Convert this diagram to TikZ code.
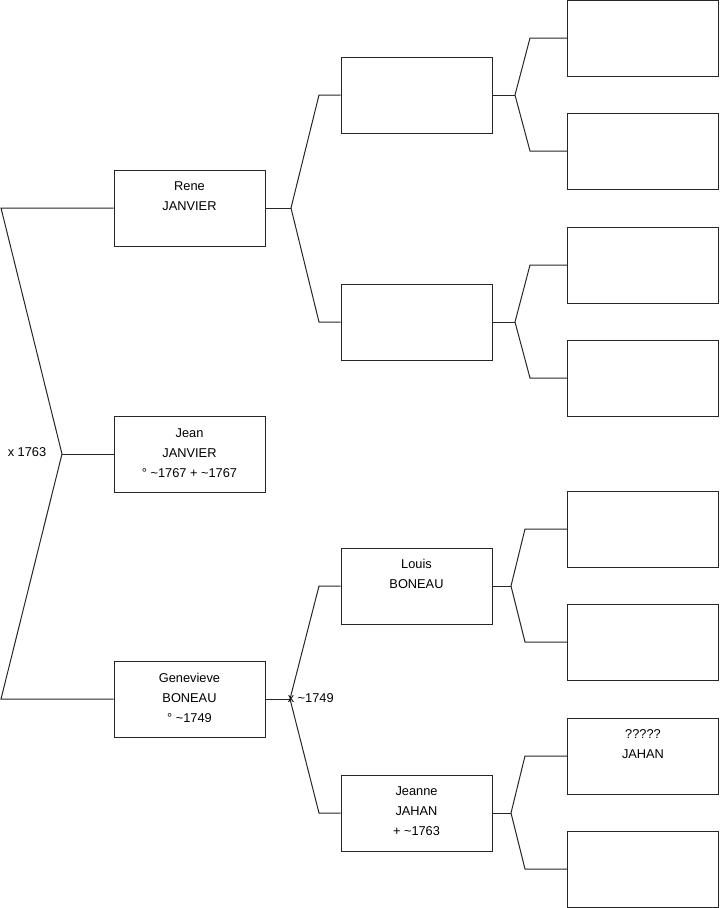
\documentclass[tikz,border=0pt]{standalone}
\usepackage{fontspec}
\setmainfont{Liberation Sans}
\begin{document}
\begin{tikzpicture}[x=0.75pt,y=-0.75pt,
  box/.style={draw=black!85, line width=0.75pt, minimum width=113.25pt, minimum height=57pt, inner sep=0pt},
  txt/.style={anchor=base, align=center, inner sep=0pt, font=\fontsize{9.6pt}{15pt}\selectfont},
  lbl/.style={inner sep=0pt, font=\fontsize{9.6pt}{11pt}\selectfont},
  conn/.style={draw=black!85, line width=0.75pt}]
\useasboundingbox (0,0) rectangle (719,908);
% level 1
\node[box] (rene) at (189.5,208) {};
\node[box] (jean) at (189.5,454) {};
\node[box] (gen) at (189.5,699) {};
% level 2
\node[box] (a2) at (416.5,95) {};
\node[box] (b2) at (416.5,322) {};
\node[box] (louis) at (416.5,586) {};
\node[box] (jeanne) at (416.5,813) {};
% level 3
\node[box] (c1) at (643,38) {};
\node[box] (c2) at (643,151) {};
\node[box] (c3) at (643,265) {};
\node[box] (c4) at (643,378) {};
\node[box] (c5) at (643,529) {};
\node[box] (c6) at (643,642) {};
\node[box] (c7) at (643,756) {};
\node[box] (c8) at (643,869) {};
% texts (base anchor = baseline of last line)
\node[txt] (renet) at (189.5,210.5) {Rene\\JANVIER};
\node[txt] (jeant) at (189.5,477) {Jean\\JANVIER\\° \textasciitilde1767 + \textasciitilde1767};
\node[txt] (gent) at (189.5,722) {Genevieve\\BONEAU\\° \textasciitilde1749};
\node[txt] (louist) at (416.5,588.5) {Louis\\BONEAU};
\node[txt] (jeannet) at (416.5,835.5) {Jeanne\\JAHAN\\+ \textasciitilde1763};
\node[txt] (c7t) at (643,758) {?????\\JAHAN};
% connectors level 0-1
\coordinate (lt) at (1,208);
\coordinate (lm) at (62,454);
\coordinate (lb) at (1,699);
\draw[conn] (rene.west) -- (lt) -- (lm) -- (lb) -- (gen.west);
\draw[conn] (lm) -- (jean.west);
\node[lbl, anchor=east] (m1) at (46.5,452) {x 1763};
% Rene
\coordinate (rv) at (291,208);
\coordinate (rvt) at (319,95);
\coordinate (rvb) at (319,322);
\draw[conn] (rene.east) -- (rv);
\draw[conn] (a2.west) -- (rvt) -- (rv) -- (rvb) -- (b2.west);
% Genevieve
\coordinate (gv) at (290,699);
\coordinate (gvt) at (319,586);
\coordinate (gvb) at (319,813);
\draw[conn] (gen.east) -- (gv);
\draw[conn] (louis.west) -- (gvt) -- (gv) -- (gvb) -- (jeanne.west);
\node[lbl, anchor=west] (m2) at (287.5,698) {x \textasciitilde1749};
% a2
\coordinate (av) at (515,95);
\coordinate (avt) at (530,38);
\coordinate (avb) at (530,151);
\draw[conn] (a2.east) -- (av);
\draw[conn] (c1.west) -- (avt) -- (av) -- (avb) -- (c2.west);
% b2
\coordinate (bv) at (515,322);
\coordinate (bvt) at (530,265);
\coordinate (bvb) at (530,378);
\draw[conn] (b2.east) -- (bv);
\draw[conn] (c3.west) -- (bvt) -- (bv) -- (bvb) -- (c4.west);
% louis
\coordinate (lv) at (511,586);
\coordinate (lvt) at (525,529);
\coordinate (lvb) at (525,642);
\draw[conn] (louis.east) -- (lv);
\draw[conn] (c5.west) -- (lvt) -- (lv) -- (lvb) -- (c6.west);
% jeanne
\coordinate (jv) at (511,813);
\coordinate (jvt) at (525,756);
\coordinate (jvb) at (525,869);
\draw[conn] (jeanne.east) -- (jv);
\draw[conn] (c7.west) -- (jvt) -- (jv) -- (jvb) -- (c8.west);
\end{tikzpicture}
\end{document}
